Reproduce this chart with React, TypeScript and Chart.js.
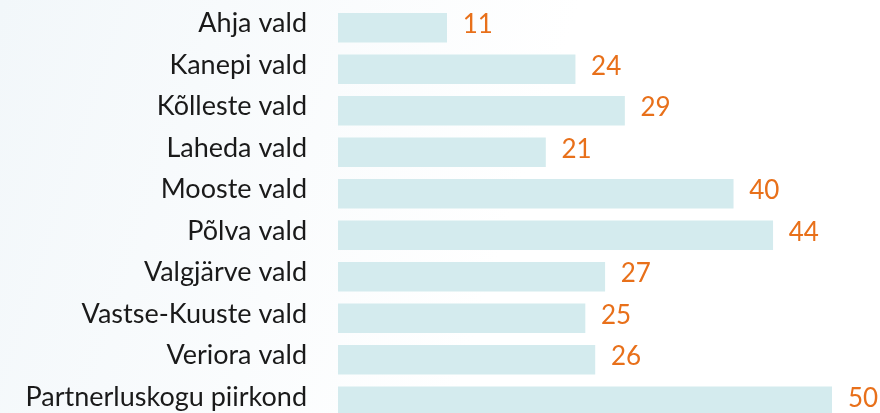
import React, { useEffect, useRef } from "react";
import { Chart, registerables } from "chart.js";

Chart.register(...registerables);

const categories = [
  "Ahja vald",
  "Kanepi vald",
  "Kõlleste vald",
  "Laheda vald",
  "Mooste vald",
  "Põlva vald",
  "Valgjärve vald",
  "Vastse-Kuuste vald",
  "Veriora vald",
  "Partnerluskogu piirkond",
];
const values = [11, 24, 29, 21, 40, 44, 27, 25, 26, 50];

const FONT = "Lato";

const bgPlugin = {
  id: "bg",
  beforeDraw(chart: any) {
    const { ctx, width, height } = chart;
    ctx.save();
    const g = ctx.createLinearGradient(0, 0, width * 0.6, height * 0.4);
    g.addColorStop(0, "#f2f7fa");
    g.addColorStop(1, "#ffffff");
    ctx.fillStyle = g;
    ctx.fillRect(0, 0, width, height);
    ctx.restore();
  },
};

const labelPlugin = {
  id: "labels",
  afterDatasetsDraw(chart: any) {
    const { ctx } = chart;
    const yScale = chart.scales.y;
    const meta = chart.getDatasetMeta(0);
    ctx.save();
    ctx.textBaseline = "middle";
    ctx.font = `27px ${FONT}`;
    ctx.fillStyle = "#1a1a1a";
    ctx.textAlign = "right";
    categories.forEach((c, i) => {
      ctx.fillText(c, yScale.right - 31, yScale.getPixelForValue(i) - 4);
    });
    ctx.font = `26px ${FONT}`;
    ctx.fillStyle = "#e8701a";
    ctx.textAlign = "left";
    meta.data.forEach((bar: any, i: number) => {
      ctx.fillText(String(values[i]), bar.x + 16, bar.y - 3);
    });
    ctx.restore();
  },
};

export default function App() {
  const ref = useRef<HTMLCanvasElement>(null);
  useEffect(() => {
    document.body.style.margin = "0";
    document.body.style.overflow = "hidden";
    const chart = new Chart(ref.current!, {
      type: "bar",
      data: {
        labels: categories,
        datasets: [
          {
            data: values,
            backgroundColor: "#d4ebee",
            barThickness: 29,
          },
        ],
      },
      options: {
        indexAxis: "y",
        responsive: false,
        animation: false,
        layout: { padding: { top: 7, bottom: 0, right: 48, left: 0 } },
        plugins: { legend: { display: false }, tooltip: { enabled: false } },
        scales: {
          x: {
            min: 0,
            max: 50,
            display: false,
          },
          y: {
            offset: true,
            grid: { display: false, drawTicks: false },
            border: { display: false },
            ticks: { display: false },
            afterFit(scale: any) {
              scale.width = 338;
            },
          },
        },
      },
      plugins: [bgPlugin, labelPlugin],
    });
    return () => chart.destroy();
  }, []);
  return (
    <div style={{ width: 880, height: 413, overflow: "hidden" }}>
      <canvas ref={ref} width={880} height={422} />
    </div>
  );
}
